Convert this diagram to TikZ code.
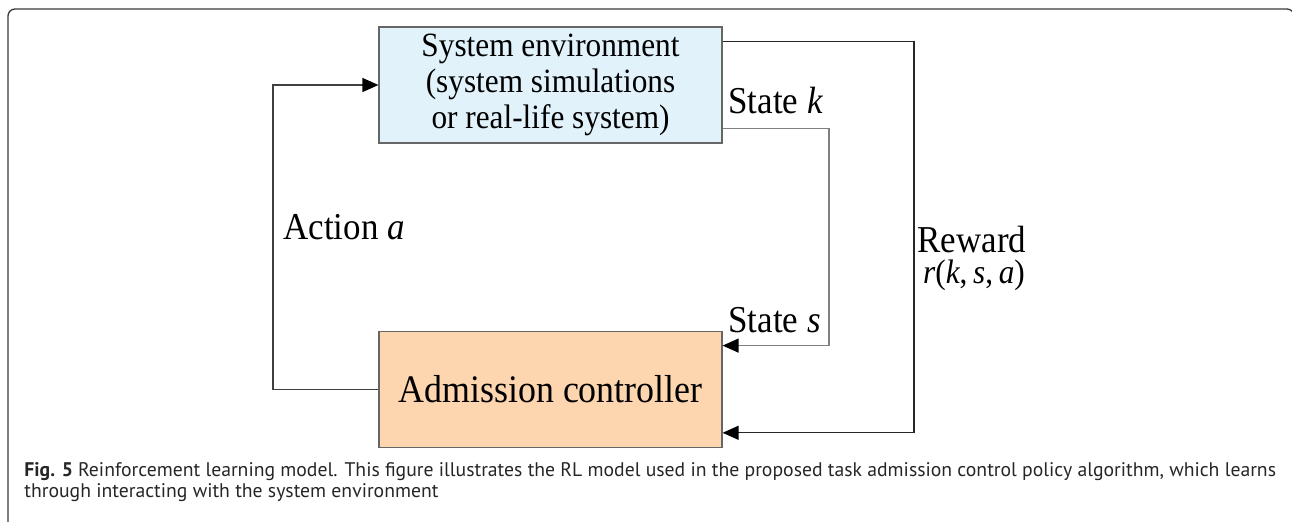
\documentclass[tikz,border=0pt]{standalone}
\usepackage{fontspec}
\setmainfont{Liberation Serif}[FakeStretch=0.92]
\newfontfamily\capfont{PT Sans}
\usepackage{xcolor}
\usetikzlibrary{positioning,arrows.meta,calc}
\definecolor{envblue}{HTML}{E1F2FA}
\definecolor{ctrlpeach}{HTML}{FDD5AE}
\definecolor{framegray}{HTML}{3A3A3A}

\begin{document}
\begin{tikzpicture}[
  x=0.5pt, y=-0.5pt,
  node distance=93.5pt,
  box/.style={rectangle, draw=black!60, line width=0.6pt, minimum width=171.5pt, minimum height=58pt, inner sep=0pt, align=center},
  arrow/.style={-{Triangle[length=8pt,width=7pt,color=black]}, line width=0.65pt},
  lbl/.style={font=\fontsize{19}{22}\selectfont, inner sep=0pt, anchor=base west}
  ]
  \useasboundingbox (0,0) rectangle (1292,521);
  \begin{scope}
    \clip (0,0) rectangle (1292,521);
    \draw[framegray, line width=0.65pt, rounded corners=3.5pt] (8,560) -- (8,9) -- (1294,9) -- (1294,560);
  \end{scope}
  \node[box, fill=envblue, font=\fontsize{17}{17.8}\selectfont] (env) at (550.5,85) {System environment\\(system simulations\\or real-life system)};
  \node[box, fill=ctrlpeach, font=\fontsize{19.5}{22}\selectfont, below=of env] (ctrl) {Admission controller};
  \coordinate (act) at (273,240);
  \coordinate (st) at (829,240);
  \coordinate (rew) at (914,240);
  \draw[arrow, black!75] (ctrl.west) -| (act) |- (env.west);
  \draw[arrow, black!50] ($(env.south east)+(0,-15)$) -| (st) |- ($(ctrl.north east)+(0,15)$);
  \draw[arrow, black!85] ($(env.north east)+(0,15)$) -| (rew) |- ($(ctrl.south east)+(0,-15)$);
  \node[lbl] (lk) at (728,113) {State \textit{k}};
  \node[lbl] (ls) at (728,332) {State \textit{s}};
  \node[lbl] (la) at (283,239) {Action \textit{a}};
  \node[lbl, align=left, font=\fontsize{19}{15.5}\selectfont] (lr) at (917,283) {Reward\\\fontsize{17}{15.5}\selectfont\,\textit{r}(\textit{k},\,\textit{s},\,\textit{a})};
  \node[anchor=base west, inner sep=0pt, align=left, text=black!85, font=\capfont\fontsize{9.85}{10.5}\selectfont] (cap) at (24,497) {\textbf{Fig. 5} Reinforcement learning model. This figure illustrates the RL model used in the proposed task admission control policy algorithm, which learns\\through interacting with the system environment};
\end{tikzpicture}
\end{document}
